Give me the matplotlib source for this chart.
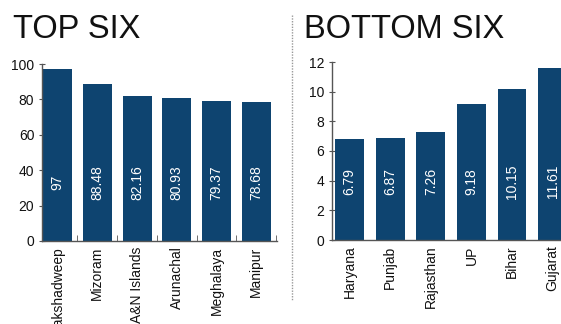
import matplotlib
matplotlib.use("Agg")
import matplotlib.pyplot as plt
from matplotlib.lines import Line2D

plt.rcParams['font.family'] = ['Liberation Sans', 'DejaVu Sans']

top_states = ["Lakshadweep", "Mizoram", "A&N Islands", "Arunachal", "Meghalaya", "Manipur"]
top_values = [97, 88.48, 82.16, 80.93, 79.37, 78.68]
top_labels = ["97", "88.48", "82.16", "80.93", "79.37", "78.68"]

bottom_states = ["Haryana", "Punjab", "Rajasthan", "UP", "Bihar", "Gujarat"]
bottom_values = [6.79, 6.87, 7.26, 9.18, 10.15, 11.61]
bottom_labels = ["6.79", "6.87", "7.26", "9.18", "10.15", "11.61"]

BAR = "#0e4470"
AXIS = "#555555"
W, H = 561, 324

fig = plt.figure(figsize=(W / 100, H / 100), dpi=100)


def panel(rect, names, vals, labels, ymax, step, xlim, width, title, title_x, boundary_ticks):
    ax = fig.add_axes(rect)
    x = range(len(names))
    ax.bar(x, vals, width=width, color=BAR, zorder=2)
    for xi, lab in zip(x, labels):
        ax.text(xi, 0.33, lab, transform=ax.get_xaxis_transform(), rotation=90,
                ha="center", va="center", color="white", fontsize=10)
    ax.set_xlim(*xlim)
    ax.set_ylim(0, ymax)
    ax.set_yticks(range(0, ymax + 1, step))
    ax.set_xticks(list(x))
    ax.set_xticklabels(names, rotation=90, fontsize=10, color="#111111")
    ax.tick_params(axis="x", length=0, pad=4)
    ax.tick_params(axis="y", length=5, direction="inout", labelsize=10,
                   color=AXIS, labelcolor="#111111", pad=3)
    if boundary_ticks:
        ax.set_xticks([i + 0.5 for i in x], minor=True)
        ax.tick_params(axis="x", which="minor", length=4, direction="in", color=AXIS)
    for s in ("top", "right"):
        ax.spines[s].set_visible(False)
    for s in ("left", "bottom"):
        ax.spines[s].set_color(AXIS)
        ax.spines[s].set_linewidth(1.0)
    ax.set_facecolor("none")
    fig.text(title_x / W, 1 - 38 / H, title, fontsize=23.5, color="#111111",
             ha="left", va="baseline")
    return ax


panel([42 / W, 83 / H, 235 / W, 177 / H], top_states, top_values, top_labels,
      100, 20, (-0.39, 5.52), 0.73, "TOP SIX", 13, True)
panel([332 / W, 84 / H, 241 / W, 178 / H], bottom_states, bottom_values, bottom_labels,
      12, 2, (-0.43, 5.5), 0.71, "BOTTOM SIX", 304, False)

# dotted divider between the two panels
fig.add_artist(Line2D([292 / W, 292 / W], [1 - 15 / H, 1 - 300 / H],
                      transform=fig.transFigure, color="#999999",
                      linestyle=(0, (1, 1)), linewidth=1.0))

fig.savefig("out.png", dpi=100)
